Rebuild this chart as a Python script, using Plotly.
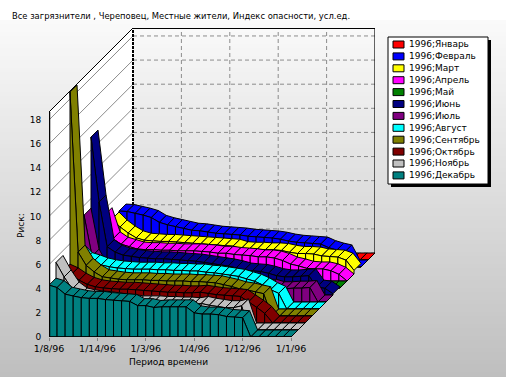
import plotly.graph_objects as go

TITLE = "Все загрязнители , Череповец, Местные жители, Индекс опасности, усл.ед."
X_TICK_POS = [0, 6, 12, 18, 24, 30]
X_TICK_TEXT = ["1/8/96", "1/14/96", "1/3/96", "1/4/96", "1/12/96", "1/1/96"]
Y_TICKS = [0, 2, 4, 6, 8, 10, 12, 14, 16, 18]
SERIES_NAMES = ["1996;Январь", "1996;Февраль", "1996;Март", "1996;Апрель", "1996;Май", "1996;Июнь",
                "1996;Июль", "1996;Август", "1996;Сентябрь", "1996;Октябрь", "1996;Ноябрь", "1996;Декабрь"]
COLORS = ["#FF0000", "#0000FF", "#FFFF00", "#FF00FF", "#008000", "#000080",
          "#800080", "#00FFFF", "#808000", "#800000", "#C0C0C0", "#008080"]

jan = [0]*31
feb = [4.64,4.6,4.45,4.3,4.1,3.7,3.5,3.35,3.2,3.05,3.0,2.9,2.8,2.75,2.7,2.65,2.55,2.5,2.45,2.4,2.3,2.15,2.05,2.0,1.95,1.9,1.6,1.4,1.25,0,0]
mar = [4.56,3.9,3.4,3.0,2.8,2.75,2.7,2.7,2.65,2.6,2.55,2.5,2.45,2.4,2.35,2.3,2.1,2.05,2.05,2.0,2.0,1.95,1.8,1.7,1.7,1.65,1.5,1.45,1.4,1.15,0.3]
apr = [5.5,3.5,3.05,2.85,2.65,2.6,2.6,2.55,2.55,2.5,2.5,2.5,2.45,2.4,2.3,2.3,2.2,2.15,2.1,2.0,2.0,1.9,1.7,1.4,1.25,1.05,1.0,1.0,0.85,0.55,0]
may = [1.0,1.0,1.0,1.0,1.0,1.0,1.0,1.0,1.0,1.0,1.0,1.0,1.0,1.0,1.0,1.0,1.0,1.0,1.0,1.0,1.0,1.0,0.9,0.9,0.8,0.7,0.5,0,0,0,0]
jun = [13.1,7.7,4.0,3.55,3.3,3.2,3.1,3.05,3.0,3.0,2.95,2.9,2.85,2.8,2.7,2.6,2.5,2.4,2.25,2.07,2.0,1.95,1.8,1.6,1.5,1.5,1.55,1.6,0.66,0.55,0.1]
jul = [7.2,3.8,2.6,2.4,2.2,2.1,2.0,2.0,1.9,1.9,1.9,1.9,1.9,1.9,1.9,1.9,1.8,1.8,1.7,1.6,1.5,1.4,1.3,1.3,1.1,1.1,1.15,1.15,1.2,0,0]
aug = [4.8,4.1,3.9,3.65,3.5,3.4,3.35,3.3,3.3,3.3,3.25,3.25,3.2,3.2,3.15,3.15,3.05,3.0,2.9,2.8,2.7,2.5,2.3,2.0,1.6,1.3,0,0,0,0,0]
sep = [18.57,5.3,4.2,3.65,3.25,3.15,3.05,3.0,3.0,3.0,2.95,2.95,2.9,2.9,2.9,2.85,2.85,2.8,2.75,2.6,2.45,2.25,2.15,2.0,1.85,0,0,0,0,0,0]
oct_ = [4.3,4.0,3.55,3.2,3.0,2.9,2.85,2.8,2.8,2.75,2.7,2.65,2.6,2.55,2.55,2.5,2.5,2.55,2.45,2.35,2.3,2.25,2.2,1.75,1.3,0.8,0,0,0,0,0]
nov = [5.6,4.4,3.4,2.9,2.75,2.65,2.6,2.5,2.4,2.35,2.25,2.25,2.25,2.2,2.2,2.15,2.15,2.1,2.2,2.05,1.95,1.85,1.85,2.0,0,0,0,0,0,0,0]
dec = [4.3,4.1,3.55,3.4,3.26,3.2,3.2,3.1,3.05,3.0,2.95,2.6,2.6,2.45,2.5,2.5,2.5,2.5,2.0,1.9,1.9,1.85,1.7,1.65,1.6,0,0,0,0,0,0]
SERIES = [jan, feb, mar, apr, may, jun, jul, aug, sep, oct_, nov, dec]

W, H = 506, 377
L, T, R, B = 49, 28, 375, 337          # plot area in page pixels
YMAX_WALL = 18.66
PX_X = 242 / 30                         # page pixels per time step
PX_Y = 225 / YMAX_WALL                  # page pixels per risk unit
DX = 84 / PX_X                          # full depth of the box, in x units
DY = 84 / PX_Y                          # full depth of the box, in y units
N = len(SERIES)
XMAX, YMAX = 30 + DX, YMAX_WALL + DY


def ox(s): return DX * s / N
def oy(s): return DY * s / N


fig = go.Figure()
# back to front: January is the rear ribbon, December the front one
for k, (name, vals, col) in enumerate(zip(SERIES_NAMES, SERIES, COLORS)):
    s0 = N - 1 - k
    s1 = s0 + 1
    for i in range(len(vals) - 1):
        a, b = vals[i], vals[i + 1]
        top_x = [i + ox(s0), i + 1 + ox(s0), i + 1 + ox(s1), i + ox(s1), i + ox(s0)]
        top_y = [a + oy(s0), b + oy(s0), b + oy(s1), a + oy(s1), a + oy(s0)]
        front_x = [i + ox(s0), i + 1 + ox(s0), i + 1 + ox(s0), i + ox(s0), i + ox(s0)]
        front_y = [oy(s0), oy(s0), b + oy(s0), a + oy(s0), oy(s0)]
        for xs, ys in ((top_x, top_y), (front_x, front_y)):
            fig.add_trace(go.Scatter(x=xs, y=ys, mode="lines", fill="toself", fillcolor=col,
                                     line=dict(color="black", width=1), name=name,
                                     showlegend=False, hoverinfo="skip"))

shapes = []
# page background gradient
for py in range(0, H, 4):
    t = max(0, (py - 20) / (H - 20))
    g = round(250 - 60 * t) if py >= 20 else 255
    shapes.append(dict(type="rect", xref="paper", yref="paper", layer="below", line=dict(width=0),
                       x0=(0 - L) / (R - L), x1=(W - L) / (R - L),
                       y0=(B - py - 4) / (B - T), y1=(B - py) / (B - T),
                       fillcolor=f"rgb({g},{g},{g})"))


def line(x0, y0, x1, y1, color="black", width=1, dash="solid", layer="below"):
    shapes.append(dict(type="line", xref="x", yref="y", x0=x0, y0=y0, x1=x1, y1=y1, layer=layer,
                       line=dict(color=color, width=width, dash=dash)))


# left wall (white) with diagonal grid lines
shapes.append(dict(type="path", xref="x", yref="y", layer="below", fillcolor="white", line=dict(width=0),
                   path=f"M 0 0 L {DX} {DY} L {DX} {YMAX} L 0 {YMAX_WALL} Z"))
for v in Y_TICKS:
    line(0, v, DX, v + DY, color="#8c8c8c")
    line(DX, v + DY, XMAX, v + DY, color="#8c8c8c", dash="4px,3px")
for x in X_TICK_POS[1:5]:
    line(DX + x, DY, DX + x, YMAX, color="#8c8c8c", dash="4px,3px")
line(DX, YMAX, XMAX, YMAX, width=2)
line(0, YMAX_WALL, DX, YMAX)
line(XMAX, DY, XMAX, YMAX, width=1.2)
line(DX, DY, DX, YMAX, width=2, dash="3px,1px")
line(0, 0, 0, YMAX_WALL, width=2.5, layer="above")
line(0, 0, 30, 0, width=1.5, layer="above")

# legend box, drawn by hand to reproduce its compact layout
LEG_X0, LEG_X1, LEG_Y0, LEG_Y1 = 388, 488, 37, 184


def px(x): return (x - L) / (R - L)
def py_(y): return (B - y) / (B - T)


shapes.append(dict(type="rect", xref="paper", yref="paper", x0=px(LEG_X0 + 3), x1=px(LEG_X1 + 3),
                   y0=py_(LEG_Y1 + 3), y1=py_(LEG_Y0 + 3), fillcolor="black", line=dict(width=0)))
shapes.append(dict(type="rect", xref="paper", yref="paper", x0=px(LEG_X0), x1=px(LEG_X1),
                   y0=py_(LEG_Y1), y1=py_(LEG_Y0), fillcolor="white", line=dict(color="black", width=1)))

FONT = "DejaVu Sans"
ann = [
    dict(text=TITLE, xref="paper", yref="paper", x=px(10), y=py_(16), xanchor="left", yanchor="middle",
         showarrow=False, font=dict(family=FONT, size=8.4, color="black")),
    dict(text="Период времени", xref="paper", yref="paper", x=px(168), y=py_(362), xanchor="center",
         yanchor="middle", showarrow=False, font=dict(family=FONT, size=9, color="black")),
    dict(text="Риск:", xref="paper", yref="paper", x=px(21), y=py_(226), xanchor="center", yanchor="middle",
         textangle=-90, showarrow=False, font=dict(family=FONT, size=9, color="black")),
]
for n, (name, col) in enumerate(zip(SERIES_NAMES, COLORS)):
    yc = 44.5 + n * 11.9
    shapes.append(dict(type="rect", xref="paper", yref="paper", x0=px(393), x1=px(404), y0=py_(yc + 3.5),
                       y1=py_(yc - 3.5), fillcolor=col, line=dict(color="black", width=1)))
    ann.append(dict(text=name, xref="paper", yref="paper", x=px(407), y=py_(yc), xanchor="left",
                    yanchor="middle", showarrow=False, font=dict(family=FONT, size=9, color="black")))

fig.update_layout(
    width=W, height=H, autosize=False, showlegend=False,
    margin=dict(l=L, r=W - R, t=T, b=H - B, pad=0),
    paper_bgcolor="white", plot_bgcolor="rgba(0,0,0,0)",
    shapes=shapes, annotations=ann,
    xaxis=dict(range=[0, XMAX], tickmode="array", tickvals=X_TICK_POS, ticktext=X_TICK_TEXT,
               showgrid=False, zeroline=False, showline=False, ticks="outside", ticklen=3,
               tickcolor="#808080", tickfont=dict(family=FONT, size=9.5, color="black")),
    yaxis=dict(range=[0, YMAX], tickmode="array", tickvals=Y_TICKS, showgrid=False, zeroline=False,
               showline=False, ticks="outside", ticklen=5, tickcolor="rgba(0,0,0,0)",
               tickfont=dict(family=FONT, size=9, color="black")),
)
fig.write_html("out.html", config=dict(displayModeBar=False),
               post_script="document.body.style.margin='0';")
